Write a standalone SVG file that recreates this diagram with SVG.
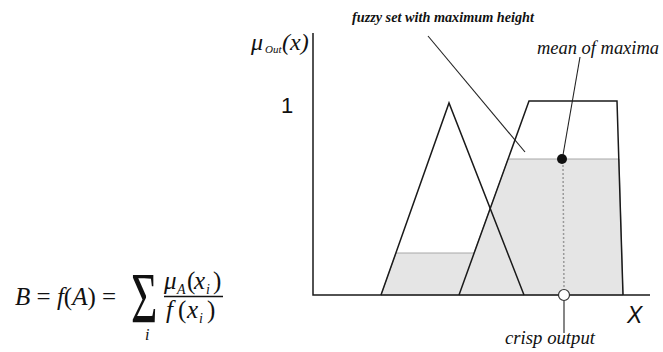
<svg xmlns="http://www.w3.org/2000/svg" width="663" height="352" viewBox="0 0 663 352">
<style>
.ln{fill:none;stroke:#1a1a1a;stroke-width:1.5;stroke-linejoin:miter}
.ld{fill:none;stroke:#222;stroke-width:1.1}
</style>
<rect width="663" height="352" fill="#fff"/>

<g id="aggregate">
  <polygon points="381,295 396,253 474,253 508,159 619,159 623,295" fill="#e5e5e5" stroke="#a8a8a8" stroke-width="1"/>
</g>

<g id="axes">
  <polyline class="ln" points="313,33 313,295 650,295"/>
  <text x="281" y="113" font-size="22" font-family="'Liberation Sans', Arial, sans-serif" fill="#111">1</text>
  <text x="627" y="323" font-size="23" font-style="italic" font-family="'Liberation Sans', Arial, sans-serif" fill="#111">X</text>
  <g font-family="'Liberation Serif', 'Times New Roman', 'DejaVu Serif', serif" font-style="italic" fill="#111">
    <text x="251" y="50" font-size="24">μ</text>
    <text x="265" y="53" font-size="11">Out</text>
    <text x="282" y="50" font-size="24">(x)</text>
  </g>
</g>

<g id="set-triangle">
  <polyline class="ln" points="381,295 449,103 524,295"/>
</g>

<g id="set-trapezoid">
  <polyline class="ln" points="459,295 529,101 617,101 623,295"/>
</g>

<g id="mean-of-maxima">
  <circle cx="562" cy="159" r="5" fill="#111"/>
  <line x1="563" y1="165" x2="564" y2="289" stroke="#9a9a9a" stroke-width="1.5" stroke-dasharray="2,2"/>
  <circle cx="564" cy="295" r="5.5" fill="#fff" stroke="#333" stroke-width="1.2"/>
</g>

<g id="connectors">
  <line class="ld" x1="428" y1="36" x2="525" y2="152"/>
  <line class="ld" x1="580" y1="57" x2="563" y2="155"/>
  <line class="ld" x1="564" y1="301" x2="564" y2="333"/>
</g>

<g id="labels" font-family="'Liberation Serif', 'Times New Roman', 'DejaVu Serif', serif" font-style="italic" fill="#111">
  <text x="352" y="22" font-size="14" font-weight="bold" textLength="182" lengthAdjust="spacingAndGlyphs">fuzzy set with maximum height</text>
  <text x="537" y="54" font-size="18" textLength="122" lengthAdjust="spacingAndGlyphs">mean of maxima</text>
  <text x="505" y="344" font-size="18" textLength="90" lengthAdjust="spacingAndGlyphs">crisp output</text>
</g>

<g id="formula" font-family="'Liberation Serif', 'Times New Roman', 'DejaVu Serif', serif" fill="#111">
  <text x="15" y="305" font-size="25"><tspan font-style="italic">B</tspan> = <tspan font-style="italic">f</tspan>(<tspan font-style="italic">A</tspan>) =</text>
  <text transform="translate(131,322) scale(0.63,1)" font-size="72">Σ</text>
  <text x="145" y="340" font-size="16" font-style="italic">i</text>
  <text y="289" font-size="25"><tspan x="164" font-style="italic">μ</tspan><tspan x="177" y="294" font-size="14" font-style="italic">A</tspan><tspan x="187" y="289">(</tspan><tspan x="194" font-style="italic">x</tspan><tspan x="206" y="294" font-size="14" font-style="italic">i</tspan><tspan x="213" y="289">)</tspan></text>
  <line x1="164" y1="296.5" x2="223" y2="296.5" stroke="#111" stroke-width="1.6"/>
  <text y="318" font-size="25"><tspan x="166" font-style="italic">f</tspan><tspan x="178">(</tspan><tspan x="187" font-style="italic">x</tspan><tspan x="199" y="323" font-size="14" font-style="italic">i</tspan><tspan x="207" y="318">)</tspan></text>
</g>
</svg>
